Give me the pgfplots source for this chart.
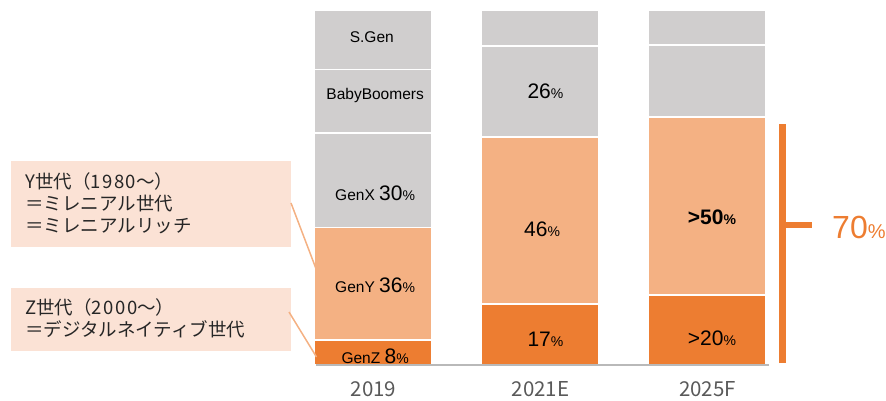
\documentclass[border=0pt]{standalone}
\usepackage{fontspec}
\usepackage{pgfplots}
\usepackage{pgfplotstable}
\pgfplotsset{compat=1.18}
\setmainfont{Liberation Sans}
\newfontfamily\cjk{Noto Sans CJK JP}

\definecolor{sgray}{HTML}{D0CECE}
\definecolor{lorange}{HTML}{F4B183}
\definecolor{dorange}{HTML}{ED7D31}
\definecolor{calloutbg}{HTML}{FBE2D5}
\definecolor{yeargray}{HTML}{595959}
\definecolor{txt}{HTML}{262626}

% share of each generation (bar heights as drawn)
\pgfplotstableread{
x genz geny genx boom sgen
0 7.0  31.8 26.5 18.0 16.7
1 17.2 47.0 25.6 10.2 0
2 19.7 50.1 20.3 9.9  0
}\shares

\newcommand{\pc}[1]{{\fontsize{21}{21}\selectfont #1}{\fontsize{14}{14}\selectfont\%}}
\newcommand{\lab}{\fontsize{15.5}{15.5}\selectfont}

\begin{document}
\begin{tikzpicture}
\useasboundingbox (0,0) rectangle (886pt,400pt);

% callout boxes
\fill[calloutbg] (11pt,153pt) rectangle (291pt,239pt);
\fill[calloutbg] (11pt,49pt) rectangle (291pt,112pt);
\begin{scope}[every node/.style={anchor=base west, inner sep=0pt, text=txt,
    font=\cjk\fontsize{18.5}{18.5}\selectfont}]
  \node at (25pt,212pt) {Y世代（{\addfontfeatures{LetterSpace=8}1980}～）};
  \node at (25pt,190pt) {＝ミレニアル世代};
  \node at (25pt,168pt) {＝ミレニアルリッチ};
  \node at (25pt,86pt) {Z世代（{\addfontfeatures{LetterSpace=8}2000}～）};
  \node at (25pt,64pt) {＝デジタルネイティブ世代};
\end{scope}

\begin{axis}[
  at={(316pt,35pt)}, anchor=south west,
  x=167pt, y=3.55pt,
  xmin=-0.344, xmax=2.368, ymin=0, ymax=100,
  ybar stacked, bar width=117.5pt,
  axis x line*=bottom, axis y line*=left,
  axis line style={draw=none},
  xtick={0,1,2}, xticklabels={2019,2021E,2025F}, ytick=\empty,
  major tick length=0pt,
  xticklabel style={anchor=base, yshift=-31pt, text=yeargray,
    font=\cjk\fontsize{20.5}{20.5}\selectfont},
  clip=false,
]
\addplot[fill=dorange, draw=white, line width=1.5pt] table[x=x,y=genz] {\shares};
\addplot[fill=lorange, draw=white, line width=1.5pt] table[x=x,y=geny] {\shares};
\addplot[fill=sgray, draw=white, line width=1.5pt] table[x=x,y=genx] {\shares};
\addplot[fill=sgray, draw=white, line width=1.5pt] table[x=x,y=boom] {\shares};
\addplot[fill=sgray, draw=white, line width=1.5pt] table[x=x,y=sgen] {\shares};

% label anchors, used after the axis so they sit above the bars
\coordinate (b0) at (axis cs:-0.344,0);
\coordinate (b1) at (axis cs:2.368,0);
\coordinate (l1) at (axis cs:-0.01,92.4);
\coordinate (l2) at (axis cs:0.01,75.8);
\coordinate (l3) at (axis cs:0.01,48.5);
\coordinate (l4) at (axis cs:0.01,22.5);
\coordinate (l5) at (axis cs:0.01,2.6);
\coordinate (m1) at (axis cs:1.03,77.2);
\coordinate (m2) at (axis cs:1.01,38.3);
\coordinate (m3) at (axis cs:1.03,7.3);
\coordinate (r1) at (axis cs:2.027,41.7);
\coordinate (r2) at (axis cs:2.027,7.6);
\end{axis}

\draw[gray!55, line width=1.5pt] (b0) -- (b1);
\begin{scope}[every node/.style={inner sep=0pt, text=black}]
\node at (l1) {\lab S.Gen};
\node at (l2) {\lab BabyBoomers};
\node at (l3) {\lab GenX \pc{30}};
\node at (l4) {\lab GenY \pc{36}};
\node at (l5) {\lab GenZ \pc{8}};
\node at (m1) {\pc{26}};
\node at (m2) {\pc{46}};
\node at (m3) {\pc{17}};
\node at (r1) {\bfseries\pc{>50}};
\node at (r2) {\pc{>20}};
\end{scope}

% connectors from callouts to bars
\draw[lorange, line width=1.5pt] (291pt,197pt) -- (316.5pt,130pt);
\draw[lorange, line width=1.5pt] (289pt,88pt) -- (316.5pt,43pt);

% bracket for GenY + GenZ share
\draw[dorange, line width=7pt] (782pt,37pt) -- (782pt,276pt);
\draw[dorange, line width=6pt] (782pt,175pt) -- (812pt,175pt);
\node[anchor=west, inner sep=0pt, text=dorange] at (832pt,173pt)
  {{\fontsize{32}{32}\selectfont 70}{\fontsize{20}{20}\selectfont\%}};
\end{tikzpicture}
\end{document}
